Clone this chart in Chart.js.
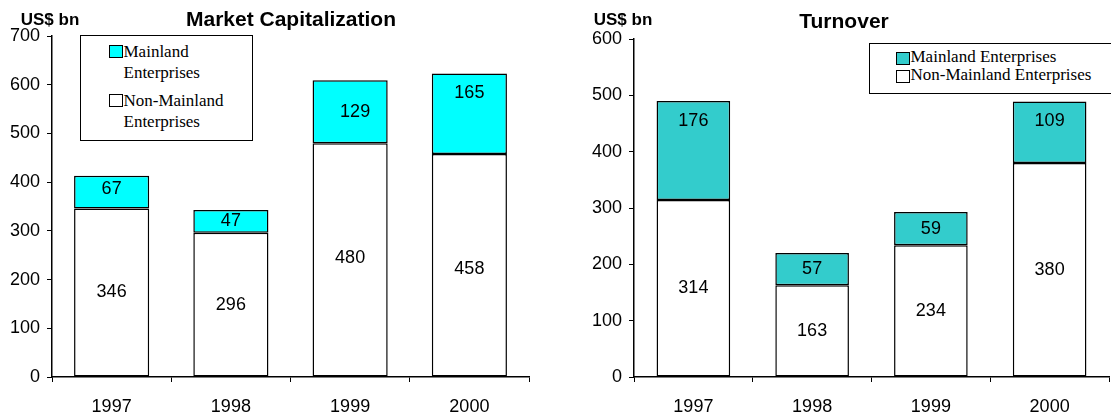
<!DOCTYPE html>
<html>
<head>
<meta charset="utf-8">
<script src="https://cdn.jsdelivr.net/npm/chart.js@4/dist/chart.umd.min.js"></script>
<style>
  body { margin: 0; background: #fff; }
  #wrap { position: relative; width: 1111px; height: 417px; overflow: hidden; }
  .pane { position: absolute; top: 0; height: 417px; }
  .legend {
    position: absolute; box-sizing: border-box; background: #fff;
    border: 1.5px solid #000; color: #000;
    font-family: "Liberation Serif", "Times New Roman", serif; font-size: 17px;
  }
  .legend .row { display: flex; align-items: flex-start; }
  .legend .sw { flex: none; width: 14px; height: 13px; box-sizing: border-box; border: 1.5px solid #000; }
</style>
</head>
<body>
<div id="wrap">
  <div class="pane" style="left:0;width:560px"><canvas id="mcap"></canvas></div>
  <div class="pane" style="left:560px;width:551px"><canvas id="turn"></canvas></div>
  <div class="legend" id="mcapLegend" style="left:80px;top:35px;width:173px;height:106px;padding-top:5px"></div>
  <div class="legend" id="turnLegend" style="left:869px;top:43px;width:260px;height:51px;padding-top:4px"></div>
</div>
<script>
// data
const years = ['1997', '1998', '1999', '2000'];
const mcapMainland = [67, 47, 129, 165];
const mcapNonMainland = [346, 296, 480, 458];
const turnMainland = [176, 57, 59, 109];
const turnNonMainland = [314, 163, 234, 380];
const mcapAxis = { min: 0, max: 700, step: 100 };
const turnAxis = { min: 0, max: 600, step: 100 };

// small nudges for value labels (px), per dataset [non-mainland, mainland]
const mcapNudge = [[0, 0, -2, 4], [-3, 0, 0, -21]];
const mcapShiftX = [[0, 0, 0, 0], [0, 0, 5, 0]];
const turnNudge = [[0, 0, 0, 0], [-30, 0, 0, -11]];

Chart.defaults.font.family = '"Liberation Sans", Arial, sans-serif';
Chart.defaults.font.size = 18;
Chart.defaults.color = '#000';

// value labels in the middle of each segment
const segmentLabels = {
  id: 'segmentLabels',
  afterDatasetsDraw(chart, args, opts) {
    const ctx = chart.ctx;
    ctx.save();
    ctx.font = '18px "Liberation Sans", Arial, sans-serif';
    ctx.fillStyle = '#000';
    ctx.textAlign = 'center';
    ctx.textBaseline = 'middle';
    chart.data.datasets.forEach((ds, di) => {
      chart.getDatasetMeta(di).data.forEach((bar, i) => {
        const p = bar.getProps(['x', 'y', 'base'], true);
        const dy = opts.nudge ? opts.nudge[di][i] : 0;
        const dx = opts.shiftX ? opts.shiftX[di][i] : 0;
        ctx.fillText(String(ds.data[i]), p.x + dx, (p.y + p.base) / 2 + dy);
      });
    });
    ctx.restore();
  }
};

// unit label + chart title
const headings = {
  id: 'headings',
  afterDraw(chart, args, opts) {
    const ctx = chart.ctx;
    ctx.save();
    ctx.fillStyle = '#000';
    ctx.textBaseline = 'middle';
    ctx.textAlign = 'center';
    ctx.font = 'bold 17px "Liberation Sans", Arial, sans-serif';
    ctx.fillText(opts.unit, opts.unitX, opts.unitY);
    ctx.font = 'bold 21px "Liberation Sans", Arial, sans-serif';
    ctx.fillText(opts.title, opts.titleX, opts.titleY);
    ctx.restore();
  }
};

function makeChart(id, cfg) {
  return new Chart(document.getElementById(id), {
    type: 'bar',
    data: {
      labels: years,
      datasets: [
        { label: 'Non-Mainland Enterprises', data: cfg.other, backgroundColor: '#ffffff',
          borderColor: '#000', borderWidth: 1.5, borderSkipped: false },
        { label: 'Mainland Enterprises', data: cfg.mainland, backgroundColor: cfg.colour,
          borderColor: '#000', borderWidth: 1.5, borderSkipped: false }
      ]
    },
    options: {
      responsive: true,
      maintainAspectRatio: false,
      animation: false,
      events: [],
      barPercentage: cfg.barPct,
      categoryPercentage: 1,
      layout: { padding: { left: 0, right: cfg.padRight, top: cfg.padTop, bottom: 0 } },
      scales: {
        x: {
          stacked: true,
          afterFit(s) { s.height = 40; },
          grid: { offset: true, drawOnChartArea: false, drawTicks: true, tickLength: 5, color: '#000', lineWidth: 1 },
          border: { display: true, color: '#000', width: 1.5 },
          ticks: { padding: 14, color: '#000', font: { size: 18 } }
        },
        y: {
          stacked: true,
          min: cfg.axis.min, max: cfg.axis.max,
          afterFit(s) { s.width = cfg.yWidth; },
          grid: { drawOnChartArea: false, drawTicks: true, tickLength: 5, color: '#000', lineWidth: 1 },
          border: { display: true, color: '#000', width: 1.5 },
          ticks: { stepSize: cfg.axis.step, padding: 7, color: '#000', font: { size: 18 } }
        }
      },
      plugins: {
        legend: { display: false },
        tooltip: { enabled: false },
        segmentLabels: { nudge: cfg.nudge, shiftX: cfg.shiftX },
        headings: cfg.headings
      }
    },
    plugins: [segmentLabels, headings]
  });
}

const mcapChart = makeChart('mcap', {
  other: mcapNonMainland, mainland: mcapMainland, colour: '#00ffff',
  axis: mcapAxis, nudge: mcapNudge, shiftX: mcapShiftX, barPct: 0.63,
  padRight: 31, padTop: 36, yWidth: 52,
  headings: { unit: 'US$ bn', unitX: 50, unitY: 20, title: 'Market Capitalization', titleX: 291, titleY: 20 }
});

const turnChart = makeChart('turn', {
  other: turnNonMainland, mainland: turnMainland, colour: '#33cccc',
  axis: turnAxis, nudge: turnNudge, barPct: 0.62,
  padRight: 2, padTop: 39, yWidth: 74,
  headings: { unit: 'US$ bn', unitX: 63, unitY: 20, title: 'Turnover', titleX: 284, titleY: 22 }
});

// html legends, mainland listed first
function buildLegend(chart, el, opt) {
  const items = chart.data.datasets.slice().reverse();
  items.forEach((ds, k) => {
    const row = document.createElement('div');
    row.className = 'row';
    row.style.lineHeight = opt.lineHeight + 'px';
    if (k > 0) row.style.marginTop = opt.gap + 'px';
    const sw = document.createElement('span');
    sw.className = 'sw';
    sw.style.background = ds.backgroundColor;
    sw.style.marginLeft = opt.indent + 'px';
    sw.style.marginTop = opt.swTop + 'px';
    const txt = document.createElement('span');
    txt.textContent = ds.label;
    txt.style.marginLeft = '1px';
    if (opt.textWidth) txt.style.width = opt.textWidth + 'px';
    else txt.style.whiteSpace = 'nowrap';
    row.appendChild(sw);
    row.appendChild(txt);
    el.appendChild(row);
  });
}
buildLegend(mcapChart, document.getElementById('mcapLegend'),
  { lineHeight: 21, gap: 7, indent: 27.5, swTop: 3.5, textWidth: 120 });
buildLegend(turnChart, document.getElementById('turnLegend'),
  { lineHeight: 18, gap: 0, indent: 25.5, swTop: 3.5 });
</script>
</body>
</html>
